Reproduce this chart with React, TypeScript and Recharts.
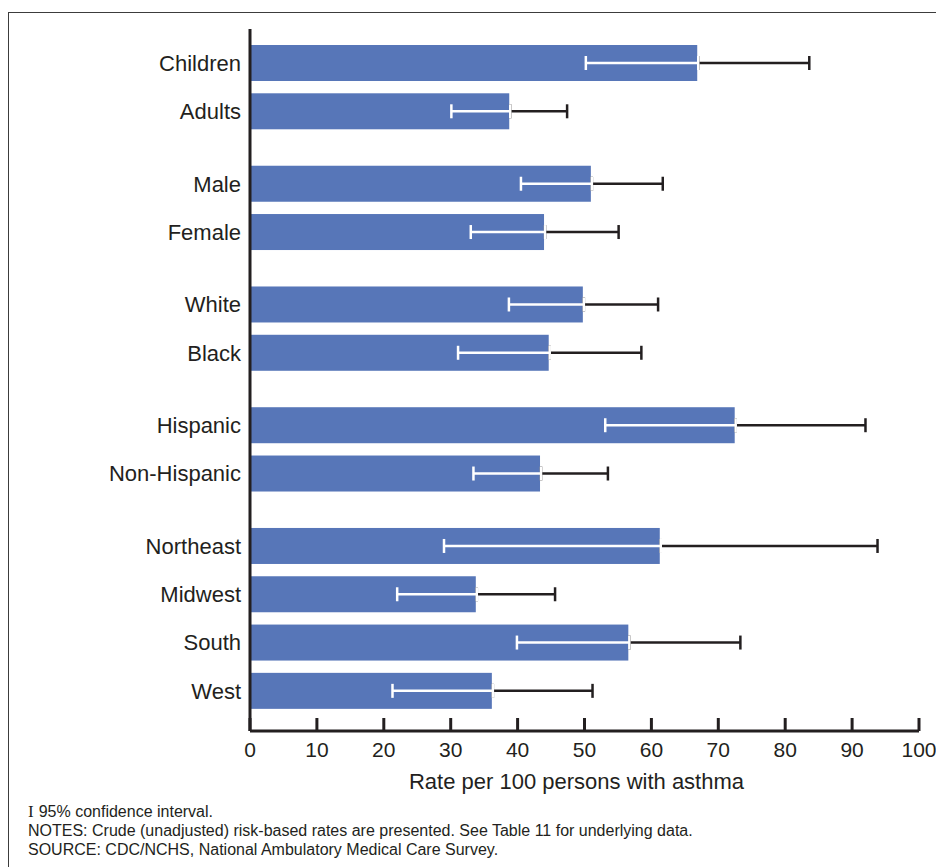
import { BarChart, Bar, XAxis, YAxis, ErrorBar, Label } from "recharts";

// Asthma rate per 100 persons, with 95% CI
const groupSizes = [2, 2, 2, 2, 4];
const categories = [
  "Children", "Adults",
  "Male", "Female",
  "White", "Black",
  "Hispanic", "Non-Hispanic",
  "Northeast", "Midwest", "South", "West",
];
const rates  = [67.0, 38.9, 51.1, 44.1, 49.9, 44.8, 72.6, 43.5, 61.4, 33.9, 56.7, 36.3];
const ciLow  = [50.2, 30.1, 40.5, 33.0, 38.7, 31.1, 53.1, 33.4, 29.0, 22.0, 39.9, 21.3];
const ciHigh = [83.6, 47.4, 61.7, 55.1, 61.0, 58.5, 92.0, 53.5, 93.8, 45.6, 73.3, 51.2];
const xTicks = [0, 10, 20, 30, 40, 50, 60, 70, 80, 90, 100];

const BAR_COLOR = "#5776b8";
const INK = "#231f20";
const FONT = "'Liberation Sans', Arial, Helvetica, sans-serif";
const BAR_H = 36;

type Row = { key: string; value: number | null; lo: number | null; hi: number | null };

// half-step rows: one blank slot between bars, two between groups
const rows: Row[] = [];
let idx = 0;
let gapN = 0;
const gap = () => rows.push({ key: `gap${gapN++}`, value: null, lo: null, hi: null });
groupSizes.forEach((size, g) => {
  if (g > 0) { gap(); gap(); }
  for (let k = 0; k < size; k++) {
    if (k > 0) gap();
    rows.push({ key: categories[idx], value: rates[idx], lo: ciLow[idx], hi: ciHigh[idx] });
    idx++;
  }
});

// taller than the band; trimmed 1px so the white end cap falls outside the bar
function BarShape(p: any) {
  if (!p.width || p.payload?.value == null) return null;
  return (
    <rect
      x={p.x}
      y={p.y + p.height / 2 - BAR_H / 2}
      width={Math.max(p.width - 1, 0)}
      height={BAR_H}
      fill={BAR_COLOR}
    />
  );
}

const lowerErr = (d: Row) => (d.value == null || d.lo == null ? null : [d.value - d.lo, 0]);
const upperErr = (d: Row) => (d.value == null || d.hi == null ? null : [0, d.hi - d.value]);

export default function App() {
  return (
    <div style={{ position: "relative", width: 936, height: 859, overflow: "hidden", fontFamily: FONT }}>
      <div
        style={{
          position: "absolute",
          left: 0,
          top: 4,
          width: 1000,
          height: 1000,
          border: "1.5px solid #3c3c3c",
        }}
      />
      <div style={{ position: "absolute", left: 0, top: 0 }}>
        <BarChart
          width={936}
          height={793}
          data={rows}
          layout="vertical"
          margin={{ top: 21, right: 25, bottom: 0, left: 12 }}
          barCategoryGap={0}
        >
          <XAxis
            type="number"
            domain={[0, 100]}
            ticks={xTicks}
            interval={0}
            height={70}
            tickSize={-13}
            tickMargin={24}
            axisLine={{ stroke: INK, strokeWidth: 3 }}
            tickLine={{ stroke: INK, strokeWidth: 3 }}
            tick={{ fill: INK, fontSize: 21, fontFamily: FONT }}
          >
            <Label
              value="Rate per 100 persons with asthma"
              position="insideBottom"
              offset={12}
              dx={-8}
              fill={INK}
              fontSize={22}
              fontFamily={FONT}
            />
          </XAxis>
          <YAxis
            type="category"
            dataKey="key"
            width={230}
            interval={0}
            tickLine={false}
            tickSize={0}
            tickMargin={9}
            padding={{ top: 22, bottom: 28 }}
            axisLine={{ stroke: INK, strokeWidth: 3 }}
            tick={{ fill: INK, fontSize: 22, fontFamily: FONT }}
            tickFormatter={(v: string) => (v.startsWith("gap") ? "" : v)}
          />
          <Bar dataKey="value" shape={BarShape} isAnimationActive={false}>
            <ErrorBar
              dataKey={upperErr as any}
              direction="x"
              width={7}
              stroke={INK}
              strokeWidth={2.5}
              isAnimationActive={false}
            />
            <ErrorBar
              dataKey={lowerErr as any}
              direction="x"
              width={7}
              stroke="#ffffff"
              strokeWidth={2.5}
              isAnimationActive={false}
            />
          </Bar>
        </BarChart>
      </div>
      <div
        style={{
          position: "absolute",
          left: 20,
          top: 794,
          fontSize: 16,
          lineHeight: "19px",
          color: INK,
          whiteSpace: "nowrap",
        }}
      >
        <div>
          <span style={{ fontFamily: "'Liberation Serif', serif", fontSize: 17, marginRight: 5 }}>I</span>
          95% confidence interval.
        </div>
        <div>NOTES: Crude (unadjusted) risk-based rates are presented. See Table 11 for underlying data.</div>
        <div>SOURCE: CDC/NCHS, National Ambulatory Medical Care Survey.</div>
      </div>
    </div>
  );
}
